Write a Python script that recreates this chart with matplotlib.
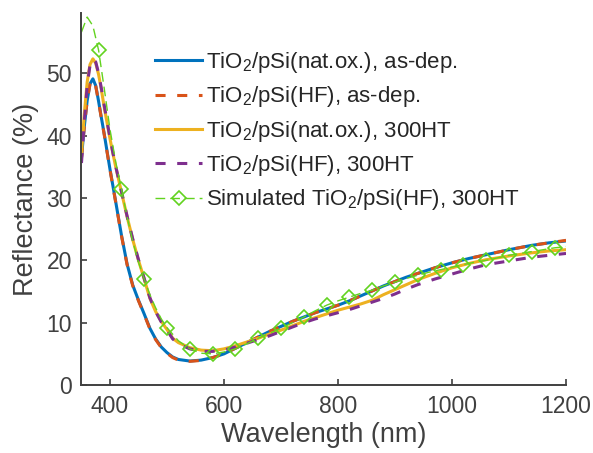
import numpy as np
import matplotlib
matplotlib.use('Agg')
import matplotlib.pyplot as plt

plt.rcParams['font.family'] = ['Liberation Sans', 'DejaVu Sans']
plt.rcParams['mathtext.default'] = 'regular'

# measured spectra (wavelength in nm, reflectance in %)
wl = [350, 355, 360, 365, 370, 375, 380, 385, 390, 395, 400, 405, 410,
      420, 430, 440, 450, 460, 470, 480, 490, 500, 510, 520,
      540, 560, 580, 600, 620, 640, 660, 680, 700, 720, 740, 760, 780,
      800, 820, 840, 860, 880, 900, 920, 940,
      970, 1000, 1030, 1060, 1100, 1140, 1170, 1200]

natox_asdep = [36.5, 41.5, 45.6, 48.3, 49.1, 48.0, 45.5, 42.8, 40.2, 37.4, 34.6, 32.0, 29.4,
               24.1, 19.4, 16.0, 13.6, 11.4, 9.1, 7.4, 6.1, 5.2, 4.5, 4.1,
               3.85, 4.0, 4.4, 5.0, 5.9, 6.8, 7.7, 8.6, 9.4, 10.2, 10.9, 11.6, 12.2,
               12.8, 13.5, 14.3, 15.1, 15.9, 16.6, 17.3, 17.9,
               18.8, 19.6, 20.3, 20.9, 21.7, 22.4, 22.8, 23.1]

hf_asdep = [36.4, 41.4, 45.6, 48.3, 49.0, 47.9, 45.4, 42.7, 40.1, 37.3, 34.5, 31.9, 29.3,
            24.0, 19.3, 15.9, 13.5, 11.3, 9.0, 7.3, 6.0, 5.1, 4.4, 4.0,
            3.8, 3.95, 4.4, 5.0, 5.9, 6.8, 7.7, 8.6, 9.4, 10.2, 10.9, 11.6, 12.2,
            12.8, 13.5, 14.3, 15.1, 15.9, 16.6, 17.3, 17.9,
            18.8, 19.6, 20.3, 20.9, 21.7, 22.4, 22.8, 23.2]

natox_300 = [37.0, 43.5, 48.6, 51.4, 52.3, 51.6, 49.8, 47.3, 44.5, 42.0, 39.5, 37.2, 35.0,
             31.0, 27.0, 23.3, 20.0, 17.0, 13.9, 11.8, 10.2, 8.9, 7.5, 6.8,
             6.0, 5.6, 5.5, 5.8, 6.3, 6.9, 7.5, 8.2, 8.8, 9.5, 10.2, 10.8, 11.4,
             12.0, 12.5, 13.0, 13.6, 14.5, 15.3, 16.1, 16.9,
             17.9, 18.8, 19.5, 20.1, 20.7, 21.2, 21.5, 21.7]

hf_300 = [35.6, 42.3, 48.0, 51.3, 52.3, 51.8, 50.0, 47.5, 44.8, 42.2, 39.7, 37.3, 35.1,
          31.1, 27.1, 23.4, 20.1, 17.1, 14.0, 11.8, 10.1, 8.8, 7.4, 6.6,
          5.8, 5.4, 5.4, 5.6, 6.1, 6.7, 7.3, 7.9, 8.6, 9.3, 10.0, 10.6, 11.1,
          11.6, 12.1, 12.7, 13.3, 13.9, 14.6, 15.4, 16.1,
          17.0, 17.8, 18.6, 19.3, 19.9, 20.5, 20.8, 21.1]

# simulated spectrum
sim_wl = [350, 360, 370, 380, 390, 400, 410, 420, 430, 440, 450, 460, 470, 480, 490, 500,
          520, 540, 560, 580, 600, 620, 640, 660, 680, 700, 720, 740, 760, 780,
          800, 820, 840, 860, 880, 900, 920, 940, 960, 980, 1000, 1020, 1040,
          1060, 1080, 1100, 1120, 1140, 1160, 1180, 1200]
sim_hf_300 = [56.6, 59.0, 57.6, 53.7, 47.5, 41.0, 35.8, 31.5, 27.0, 23.0, 19.7, 17.0, 14.5, 12.4, 10.6, 9.2,
              7.1, 5.8, 5.1, 5.0, 5.3, 5.8, 6.6, 7.5, 8.3, 9.1, 10.0, 10.9, 11.9, 12.8,
              13.5, 14.1, 14.7, 15.2, 15.9, 16.5, 17.1, 17.6, 18.1, 18.5, 18.9, 19.3, 19.7,
              20.0, 20.4, 20.8, 21.1, 21.4, 21.7, 22.0, 22.2]
marker_idx = [i for i, w in enumerate(sim_wl) if w >= 380 and (w - 380) % 40 == 0]

labels = ['TiO$_2$/pSi(nat.ox.), as-dep.',
          'TiO$_2$/pSi(HF), as-dep.',
          'TiO$_2$/pSi(nat.ox.), 300HT',
          'TiO$_2$/pSi(HF), 300HT',
          'Simulated TiO$_2$/pSi(HF), 300HT']

fig = plt.figure(figsize=(5.93, 4.53), dpi=100)
ax = fig.add_axes([0.1374, 0.150, 0.8171, 0.8206])

ax.plot(wl, natox_asdep, color='#0072BD', lw=2.2, label=labels[0])
ax.plot(wl, hf_asdep, color='#D95319', lw=2.2, dashes=(3.3, 3.8), label=labels[1])
ax.plot(wl, natox_300, color='#EDB120', lw=2.2, label=labels[2])
ax.plot(wl, hf_300, color='#7E2F8E', lw=2.2, dashes=(3.3, 3.8), label=labels[3])
ax.plot(sim_wl, sim_hf_300, color='#62D31F', lw=1.0, dashes=(7, 3.6),
        marker='D', ms=7.5, mfc='none', mew=1.2, markevery=marker_idx, label=labels[4])

ax.set_xlim(350, 1200)
ax.set_ylim(0, 59.6)
ax.set_xticks([400, 600, 800, 1000, 1200])
ax.set_yticks([0, 10, 20, 30, 40, 50])

gray = '#404040'
for s in ['top', 'right']:
    ax.spines[s].set_visible(False)
for s in ['left', 'bottom']:
    ax.spines[s].set_color(gray)
    ax.spines[s].set_linewidth(1.4)
ax.tick_params(direction='in', length=4, width=1.2, colors=gray, labelsize=16.5, pad=7)
ax.set_xlabel('Wavelength (nm)', fontsize=19.5, color=gray, labelpad=3)
ax.set_ylabel('Reflectance (%)', fontsize=19.5, color=gray, labelpad=5)

ax.legend(loc='upper left', bbox_to_anchor=(0.262, 0.8895), bbox_transform=fig.transFigure,
          frameon=False, fontsize=16, handlelength=2.1, handletextpad=0.2,
          labelspacing=0.42, borderaxespad=0, borderpad=0, labelcolor='#262626')

fig.savefig('out.png', dpi=100)
